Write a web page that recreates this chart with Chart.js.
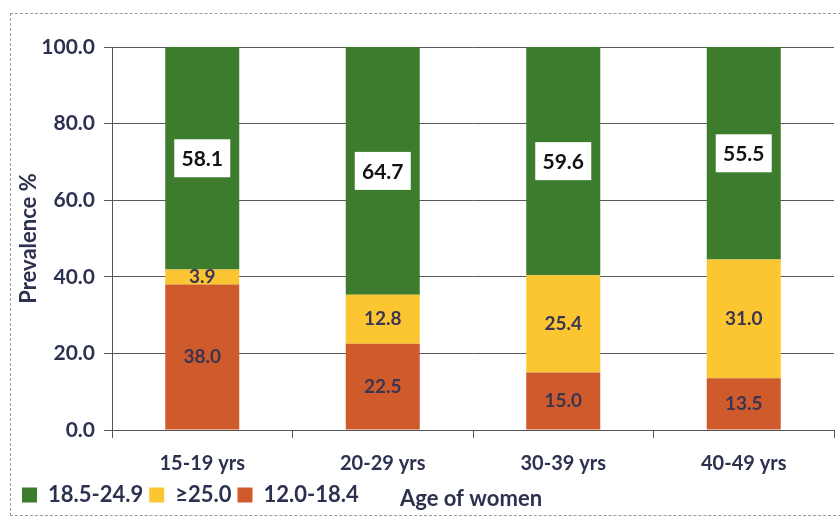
<!DOCTYPE html>
<html>
<head>
<meta charset="utf-8">
<script src="https://cdn.jsdelivr.net/npm/chart.js@4/dist/chart.umd.min.js"></script>
<style>
    html, body { margin: 0; padding: 0; background: #fff; }
    .wrap { position: relative; width: 840px; height: 518px; }
    .frame {
        position: absolute; left: 10px; top: 13px; width: 840px; height: 501px;
        border: 1px dashed #9a9a9a; border-right: none;
    }
    canvas { position: absolute; left: 0; top: 0; }
</style>
</head>
<body>
<div class="wrap">
    <div class="frame"></div>
    <canvas id="bmiChart" width="840" height="518"></canvas>
</div>
<script>
// Age groups and BMI category shares (%)
const ageGroups = ['15-19 yrs', '20-29 yrs', '30-39 yrs', '40-49 yrs'];
const underweight = [38.0, 22.5, 15.0, 13.5];   // 12.0-18.4
const overweight = [3.9, 12.8, 25.4, 31.0];     // >=25.0
const normalWeight = [58.1, 64.7, 59.6, 55.5];  // 18.5-24.9
const yTicks = [0, 20, 40, 60, 80, 100];

const navy = '#2d3150';
Chart.defaults.font.family = 'Lato, "Open Sans", sans-serif';
Chart.defaults.font.weight = 'bold';
Chart.defaults.color = navy;

// Draws value labels inside each bar segment
const segmentLabels = {
    id: 'segmentLabels',
    afterDatasetsDraw(chart) {
        const ctx = chart.ctx;
        ctx.save();
        ctx.textAlign = 'center';
        ctx.textBaseline = 'middle';
        chart.data.datasets.forEach((ds, i) => {
            const meta = chart.getDatasetMeta(i);
            meta.data.forEach((bar, j) => {
                const y = (bar.y + bar.base) / 2;
                const text = ds.data[j].toFixed(1);
                if (ds.boxed) {
                    ctx.font = 'bold 21px Lato, sans-serif';
                    ctx.fillStyle = '#ffffff';
                    ctx.fillRect(bar.x - 28, y - 19, 56, 38);
                    ctx.fillStyle = '#111111';
                    ctx.fillText(text, bar.x, y + 1);
                } else {
                    ctx.font = 'bold 19px Lato, sans-serif';
                    ctx.fillStyle = '#3a3550';
                    ctx.fillText(text, bar.x, y);
                }
            });
        });
        ctx.restore();
    }
};

// X axis title sits on the same line as the legend
const xTitle = {
    id: 'xTitle',
    afterDraw(chart) {
        const ctx = chart.ctx;
        const area = chart.chartArea;
        const legend = chart.legend;
        ctx.save();
        ctx.font = 'bold 22px Lato, sans-serif';
        ctx.fillStyle = navy;
        ctx.textAlign = 'center';
        ctx.textBaseline = 'middle';
        ctx.fillText('Age of women', (area.left + area.right) / 2 - 2, (legend.top + legend.bottom) / 2 + 2);
        ctx.restore();
    }
};

new Chart(document.getElementById('bmiChart'), {
    type: 'bar',
    data: {
        labels: ageGroups,
        datasets: [{
            label: '12.0-18.4',
            data: underweight,
            backgroundColor: '#cf5a2c'
        }, {
            label: '\u226525.0',
            data: overweight,
            backgroundColor: '#fbc631'
        }, {
            label: '18.5-24.9',
            data: normalWeight,
            backgroundColor: '#3d7b2d',
            boxed: true
        }]
    },
    options: {
        responsive: false,
        animation: false,
        layout: {
            padding: { left: 16, right: 6, top: 47, bottom: 2 }
        },
        datasets: {
            bar: { barPercentage: 0.41, categoryPercentage: 1.0 }
        },
        scales: {
            x: {
                stacked: true,
                grid: {
                    drawOnChartArea: false,
                    drawTicks: true,
                    tickLength: 8,
                    color: '#555'
                },
                border: { color: '#555', width: 1 },
                ticks: { font: { size: 20, weight: 'bold' }, color: navy, padding: 14 },
                afterFit: (scale) => { scale.height = 48; }
            },
            y: {
                stacked: true,
                min: 0,
                max: 100,
                afterBuildTicks: (scale) => {
                    scale.ticks = yTicks.map(v => ({ value: v }));
                },
                afterFit: (scale) => { scale.width = 96; },
                grid: { color: '#5a5a5a', tickLength: 8 },
                border: { color: '#555', width: 1 },
                ticks: {
                    font: { size: 21, weight: 'bold' },
                    color: navy,
                    padding: 9,
                    callback: (v) => Number(v).toFixed(1)
                },
                title: {
                    display: true,
                    text: 'Prevalence %',
                    font: { size: 22, weight: 'bold' },
                    color: navy,
                    padding: { top: 0, bottom: 0 }
                }
            }
        },
        plugins: {
            legend: {
                position: 'bottom',
                align: 'start',
                reverse: true,
                labels: {
                    boxWidth: 15,
                    boxHeight: 15,
                    padding: 6,
                    font: { size: 22, weight: 'bold' },
                    color: navy
                }
            },
            tooltip: { enabled: false }
        }
    },
    plugins: [segmentLabels, xTitle]
});
</script>
</body>
</html>
